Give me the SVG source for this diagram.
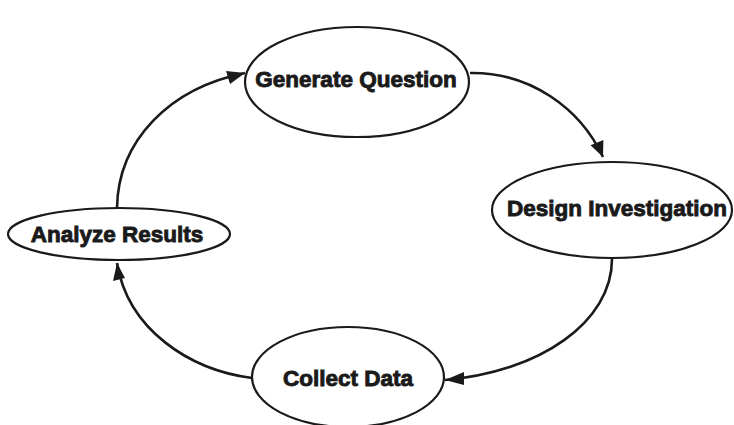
<svg xmlns="http://www.w3.org/2000/svg" width="734" height="425" viewBox="0 0 734 425">
<style>
.node{fill:#fff;stroke:#1a1a1a;stroke-width:2.2}
.lbl{font-family:"Liberation Sans",Arial,sans-serif;font-weight:bold;font-size:22.5px;fill:#1a1a1a;stroke:#1a1a1a;stroke-width:0.9;text-anchor:middle}
.edge{fill:none;stroke:#1a1a1a;stroke-width:2.6}
.head{fill:#1a1a1a}
</style>
<rect width="734" height="425" fill="#fff"/>
<g id="connectors">
<path class="edge" d="M117,208 C118,140 170,88 245,73"/>
<path class="edge" d="M470,73 C530,72 580,108 603,157"/>
<path class="edge" d="M612,259 C612,322 540,372 445,380"/>
<path class="edge" d="M252,378 C190,370 128,330 117,263"/>
<polygon class="head" points="245,73 226,71 230,84"/>
<polygon class="head" points="603,157 589,147 601,140" transform="rotate(8 603 157)"/>
<polygon class="head" points="445,380 464,372 464,385"/>
<polygon class="head" points="117,263 113,281 125,278"/>
</g>
<g id="generate-question">
<ellipse class="node" cx="357" cy="82" rx="112" ry="55"/>
<text class="lbl" x="356" y="87">Generate Question</text>
</g>
<g id="design-investigation">
<ellipse class="node" cx="612" cy="210" rx="120" ry="48"/>
<text class="lbl" x="617" y="216">Design Investigation</text>
</g>
<g id="analyze-results">
<ellipse class="node" cx="119" cy="234" rx="111" ry="26"/>
<text class="lbl" x="117" y="242">Analyze Results</text>
</g>
<g id="collect-data">
<ellipse class="node" cx="348" cy="377" rx="96" ry="50"/>
<text class="lbl" x="348" y="386">Collect Data</text>
</g>
</svg>
